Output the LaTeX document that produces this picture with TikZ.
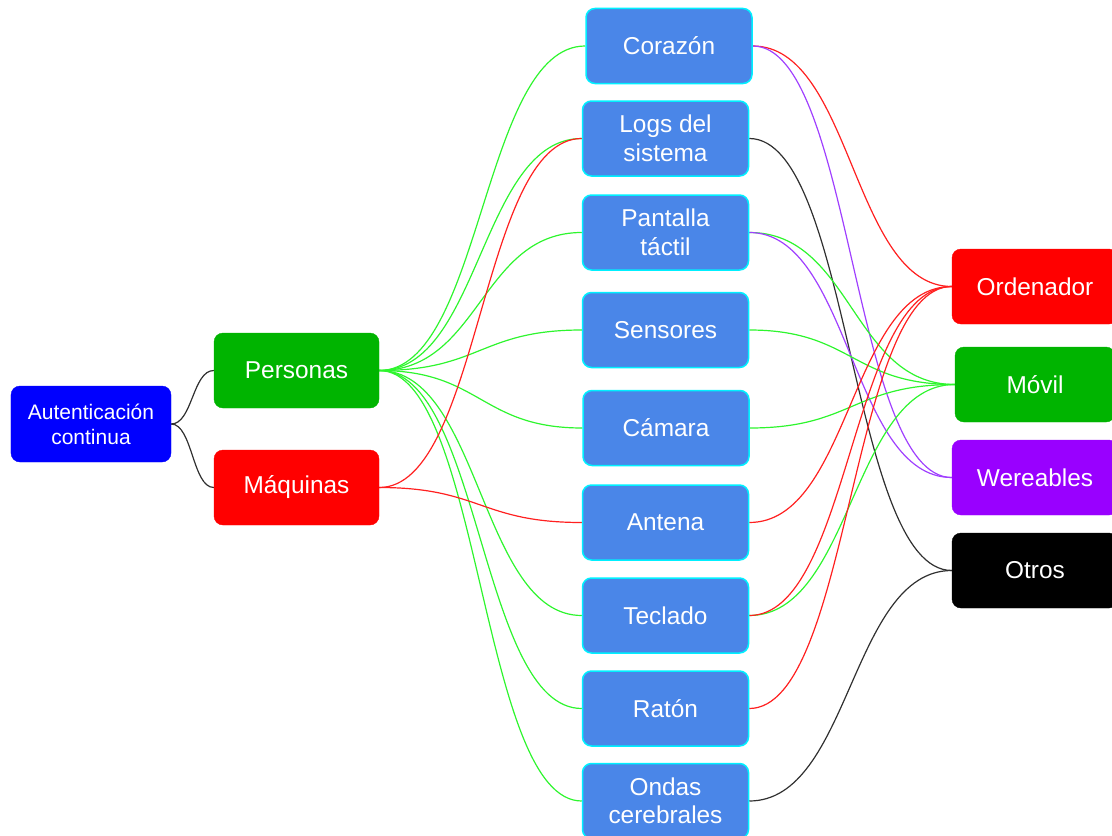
\documentclass[tikz,border=0pt]{standalone}
\usepackage{fontspec}
\setmainfont{Liberation Sans}
\usetikzlibrary{calc,backgrounds}
\definecolor{midblue}{HTML}{4A86E8}
\definecolor{edgecyan}{HTML}{00F0FF}
\definecolor{boxgreen}{HTML}{00B400}
\definecolor{boxred}{HTML}{FF0000}
\definecolor{boxpurple}{HTML}{9900FF}
\definecolor{boxblue}{HTML}{0000FF}
\definecolor{lgreen}{HTML}{2EF52E}
\definecolor{lred}{HTML}{FF2020}
\definecolor{lpurple}{HTML}{A040FF}
\definecolor{lblack}{HTML}{303030}
\newcommand\conn[3]{\draw[#3] let \p1=(#1.east), \p2=(#2.west) in (\p1) .. controls ({0.5*\x1+0.5*\x2},\y1) and ({0.5*\x1+0.5*\x2},\y2) .. (\p2);}
\tikzset{
  box/.style={rounded corners=9bp, minimum width=166bp, minimum height=75bp, inner sep=0pt, align=center, text=white, font=\fontsize{24.4bp}{28.5bp}\selectfont},
  midbox/.style={box, fill=midblue, draw=edgecyan, line width=1.5bp},
  colbox/.style={box, fill=#1, draw=#1},
  wire/.style={line width=1.2bp, draw=#1}
}
\begin{document}
\begin{tikzpicture}[x=1bp,y=-1bp]
\useasboundingbox (0,0) rectangle (1112,836);
\clip (0,0) rectangle (1112,836);
% left
\node[colbox=boxblue, minimum width=160bp, minimum height=76bp, font=\fontsize{21bp}{25bp}\selectfont] (auth) at (91,424) {Autenticación\\continua};
\node[colbox=boxgreen, minimum width=165bp] (per) at (296.5,370.5) {Personas};
\node[colbox=boxred, minimum width=165bp] (maq) at (296.5,487.5) {Máquinas};
% middle
\node[midbox] (cor) at (669,46) {Corazón};
\node[midbox] (logs) at (665.5,138.5) {Logs del\\sistema};
\node[midbox] (pan) at (665.5,232.5) {Pantalla\\táctil};
\node[midbox] (sen) at (665.5,330) {Sensores};
\node[midbox] (cam) at (666,428) {Cámara};
\node[midbox] (ant) at (665.5,522.5) {Antena};
\node[midbox] (tec) at (665.5,615.5) {Teclado};
\node[midbox] (rat) at (665.5,708.5) {Ratón};
\node[midbox] (ond) at (665.5,801) {Ondas\\cerebrales};
% right
\node[colbox=boxred] (ord) at (1035,286.5) {Ordenador};
\node[colbox=boxgreen, minimum width=160bp] (mov) at (1035,384.5) {Móvil};
\node[colbox=boxpurple] (wer) at (1035,477.5) {Wereables};
\node[colbox=black] (otr) at (1035,570.5) {Otros};
\begin{scope}[on background layer]
\conn{auth}{per}{wire=lblack}
\conn{auth}{maq}{wire=lblack}
\foreach \t in {cor,logs,pan,sen,cam,tec,rat,ond}{\conn{per}{\t}{wire=lgreen}}
\conn{maq}{logs}{wire=lred}
\conn{maq}{ant}{wire=lred}
\conn{cor}{ord}{wire=lred}
\conn{cor}{wer}{wire=lpurple}
\conn{logs}{otr}{wire=lblack}
\conn{pan}{mov}{wire=lgreen}
\conn{pan}{wer}{wire=lpurple}
\conn{sen}{mov}{wire=lgreen}
\conn{cam}{mov}{wire=lgreen}
\conn{ant}{ord}{wire=lred}
\conn{tec}{mov}{wire=lgreen}
\conn{tec}{ord}{wire=lred}
\conn{rat}{ord}{wire=lred}
\conn{ond}{otr}{wire=lblack}
\end{scope}
\end{tikzpicture}
\end{document}
